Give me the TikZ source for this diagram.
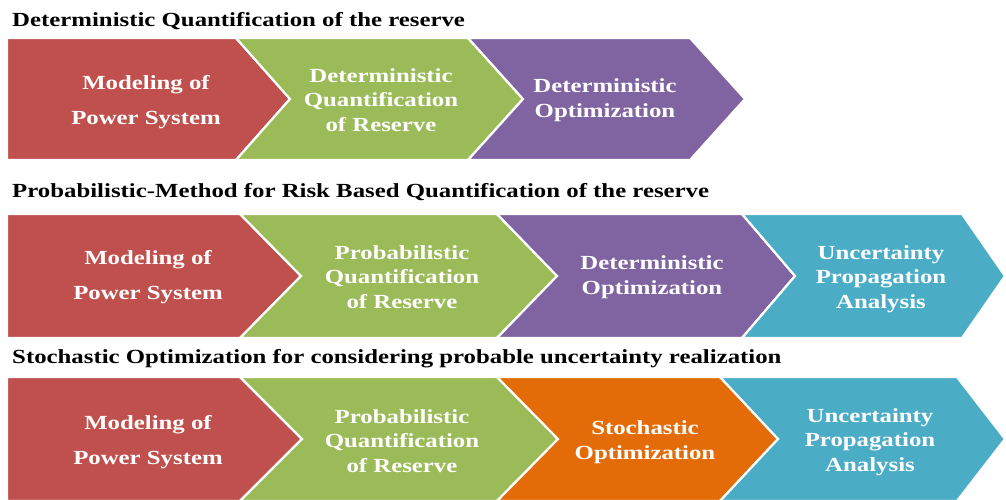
\documentclass[tikz,border=0pt]{standalone}
\usepackage{fontspec}
\setmainfont{Liberation Serif}
\usetikzlibrary{positioning}
\definecolor{modred}{HTML}{C0504D}
\definecolor{quagreen}{HTML}{9BBB59}
\definecolor{optpurple}{HTML}{8064A2}
\definecolor{stoorange}{HTML}{E36C09}
\definecolor{uncyan}{HTML}{4BACC6}
% colour, left x, notch x, corner x, tip x, top y, bottom y
\newcommand{\chev}[7]{%
  \fill[#1,draw=white,line width=2.2pt,line join=miter] (#2,#6) -- (#4,#6)
    -- (#5,{(#6+#7)/2}) -- (#4,#7) -- (#2,#7) -- (#3,{(#6+#7)/2}) -- cycle;}
\tikzset{
  ttl/.style={anchor=base west,inner sep=0pt,
    font=\fontsize{20}{24}\selectfont\bfseries,xscale=1.24},
  stagetxt/.style={text=white,align=center,inner sep=0pt,
    font=\fontsize{20}{24.5}\selectfont\bfseries,xscale=1.24},
  stagetxtwide/.style={stagetxt,font=\fontsize{20}{35}\selectfont\bfseries},
}

\begin{document}
\begin{tikzpicture}[x=1pt,y=-1pt]
  \useasboundingbox (0,0) rectangle (1006,499);
  \clip (0,0) rectangle (1006,499);
  % row 1
  \node[ttl] (t1) at (12,26) {Deterministic Quantification of the reserve};
  \chev{modred}{7}{7}{236}{290}{38}{160}
  \chev{quagreen}{236}{290}{468}{523}{38}{160}
  \chev{optpurple}{468}{523}{690}{745}{38}{160}
  \node[stagetxtwide] (r1mod) at (146,102) {Modeling of\\Power System};
  \node[stagetxt] (r1qua) at (381,100) {Deterministic\\Quantification\\of Reserve};
  \node[stagetxt] (r1opt) at (605,100) {Deterministic\\Optimization};
  % row 2
  \node[ttl] (t2) at (12,197) {Probabilistic-Method for Risk Based Quantification of the reserve};
  \chev{modred}{7}{7}{240}{301}{214}{338}
  \chev{quagreen}{240}{301}{497}{557}{214}{338}
  \chev{optpurple}{497}{557}{742}{795}{214}{338}
  \chev{uncyan}{742}{795}{962}{1005}{214}{338}
  \node[stagetxtwide] (r2mod) at (148,277) {Modeling of\\Power System};
  \node[stagetxt] (r2qua) at (402,277) {Probabilistic\\Quantification\\of Reserve};
  \node[stagetxt] (r2opt) at (652,277) {Deterministic\\Optimization};
  \node[stagetxt] (r2unc) at (881,279) {Uncertainty\\Propagation\\Analysis};
  % row 3
  \node[ttl] (t3) at (12,363) {Stochastic Optimization for considering probable uncertainty realization};
  \chev{modred}{7}{7}{240}{302}{377}{501}
  \chev{quagreen}{240}{302}{497}{558}{377}{501}
  \chev{stoorange}{497}{558}{720}{778}{377}{501}
  \chev{uncyan}{720}{778}{957}{1005}{377}{501}
  \node[stagetxtwide] (r3mod) at (148,442) {Modeling of\\Power System};
  \node[stagetxt] (r3qua) at (402,441) {Probabilistic\\Quantification\\of Reserve};
  \node[stagetxt] (r3opt) at (645,442) {Stochastic\\Optimization};
  \node[stagetxt] (r3unc) at (870,442) {Uncertainty\\Propagation\\Analysis};
\end{tikzpicture}
\end{document}
